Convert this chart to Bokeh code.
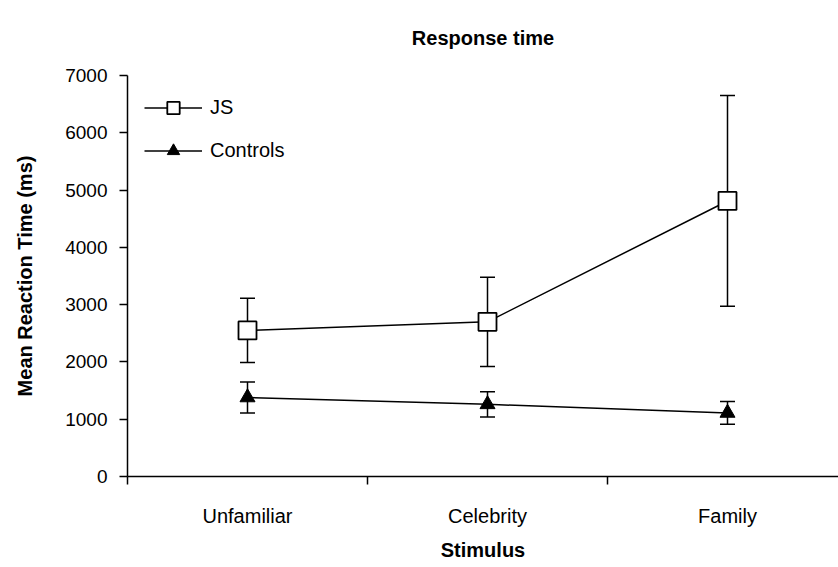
from bokeh.plotting import figure
from bokeh.models import (Range1d, FixedTicker, Whisker, TeeHead, ColumnDataSource,
                          Legend, LegendItem)
from bokeh.embed import file_html
from bokeh.resources import INLINE

title_text = "Response time"
categories = ["Unfamiliar", "Celebrity", "Family"]
js_mean = [2550, 2700, 4810]
js_err = [560, 780, 1840]
ctrl_mean = [1380, 1260, 1110]
ctrl_err = [270, 220, 200]
y_ticks = [0, 1000, 2000, 3000, 4000, 5000, 6000, 7000]

FONT = "Liberation Sans"

x = [i + 0.5 for i in range(len(categories))]

js_src = ColumnDataSource(dict(
    x=x, y=js_mean,
    upper=[m + e for m, e in zip(js_mean, js_err)],
    lower=[m - e for m, e in zip(js_mean, js_err)]))
ctrl_src = ColumnDataSource(dict(
    x=x, y=ctrl_mean,
    upper=[m + e for m, e in zip(ctrl_mean, ctrl_err)],
    lower=[m - e for m, e in zip(ctrl_mean, ctrl_err)]))

p = figure(width=838, height=566, output_backend="svg", toolbar_location=None,
           x_range=Range1d(0, 2.9625), y_range=Range1d(0, 7000),
           title=title_text,
           min_border_left=127, min_border_right=0, min_border_top=75,
           min_border_bottom=90)

p.outline_line_color = None
p.xgrid.grid_line_color = None
p.ygrid.grid_line_color = None
p.background_fill_color = "white"
p.border_fill_color = "white"

p.title.align = "center"
p.title.vertical_align = "top"
p.title.text_font = FONT
p.title.text_font_size = "20px"
p.title.text_font_style = "bold"
p.title.text_color = "black"
p.title.standoff = 50

# axes
xa = p.xaxis[0]
xa.ticker = FixedTicker(ticks=x, minor_ticks=[0, 1, 2, 3])
xa.major_label_overrides = {xi: c for xi, c in zip(x, categories)}
xa.major_tick_out = 0
xa.major_tick_in = 0
xa.minor_tick_out = 8
xa.minor_tick_in = 0
xa.minor_tick_line_color = "black"
xa.minor_tick_line_width = 1.5
xa.axis_line_color = "black"
xa.axis_line_width = 1.5
xa.major_label_standoff = 20
xa.major_label_text_font = FONT
xa.major_label_text_font_size = "20px"
xa.major_label_text_color = "black"
xa.axis_label = "Stimulus"
xa.axis_label_text_font = FONT
xa.axis_label_text_font_size = "20px"
xa.axis_label_text_font_style = "bold"
xa.axis_label_text_color = "black"
xa.axis_label_standoff = 9

ya = p.yaxis[0]
ya.ticker = FixedTicker(ticks=y_ticks, minor_ticks=[])
ya.major_tick_out = 8
ya.major_tick_in = 0
ya.major_tick_line_color = "black"
ya.major_tick_line_width = 1.5
ya.axis_line_color = "black"
ya.axis_line_width = 1.5
ya.major_label_standoff = 12
ya.major_label_text_font = FONT
ya.major_label_text_font_size = "19px"
ya.major_label_text_color = "black"
ya.axis_label = "Mean Reaction Time (ms)"
ya.axis_label_text_font = FONT
ya.axis_label_text_font_size = "20px"
ya.axis_label_text_font_style = "bold"
ya.axis_label_text_color = "black"
ya.axis_label_standoff = 26

# error bars
for src in (js_src, ctrl_src):
    w = Whisker(source=src, base="x", upper="upper", lower="lower",
                line_color="black", line_width=1.5,
                upper_head=TeeHead(size=15, line_color="black", line_width=1.5),
                lower_head=TeeHead(size=15, line_color="black", line_width=1.5),
                level="underlay")
    p.add_layout(w)

js_line = p.line("x", "y", source=js_src, line_color="black", line_width=1.5)
js_pts = p.scatter("x", "y", source=js_src, marker="square", size=18,
                   fill_color="white", line_color="black", line_width=1.8)
c_line = p.line("x", "y", source=ctrl_src, line_color="black", line_width=1.5)
c_pts = p.scatter("x", "y", source=ctrl_src, marker="triangle", size=15,
                  fill_color="black", line_color="black", line_width=1)

legend = Legend(items=[LegendItem(label="JS", renderers=[js_line, js_pts]),
                       LegendItem(label="Controls", renderers=[c_line, c_pts])],
                location="top_left", margin=17, padding=0, spacing=12,
                glyph_width=58, glyph_height=31, label_standoff=8,
                label_text_font=FONT, label_text_font_size="20px",
                label_text_color="black",
                border_line_color=None, background_fill_alpha=0)
p.add_layout(legend)

open("out.html", "w").write(file_html(p, INLINE))
